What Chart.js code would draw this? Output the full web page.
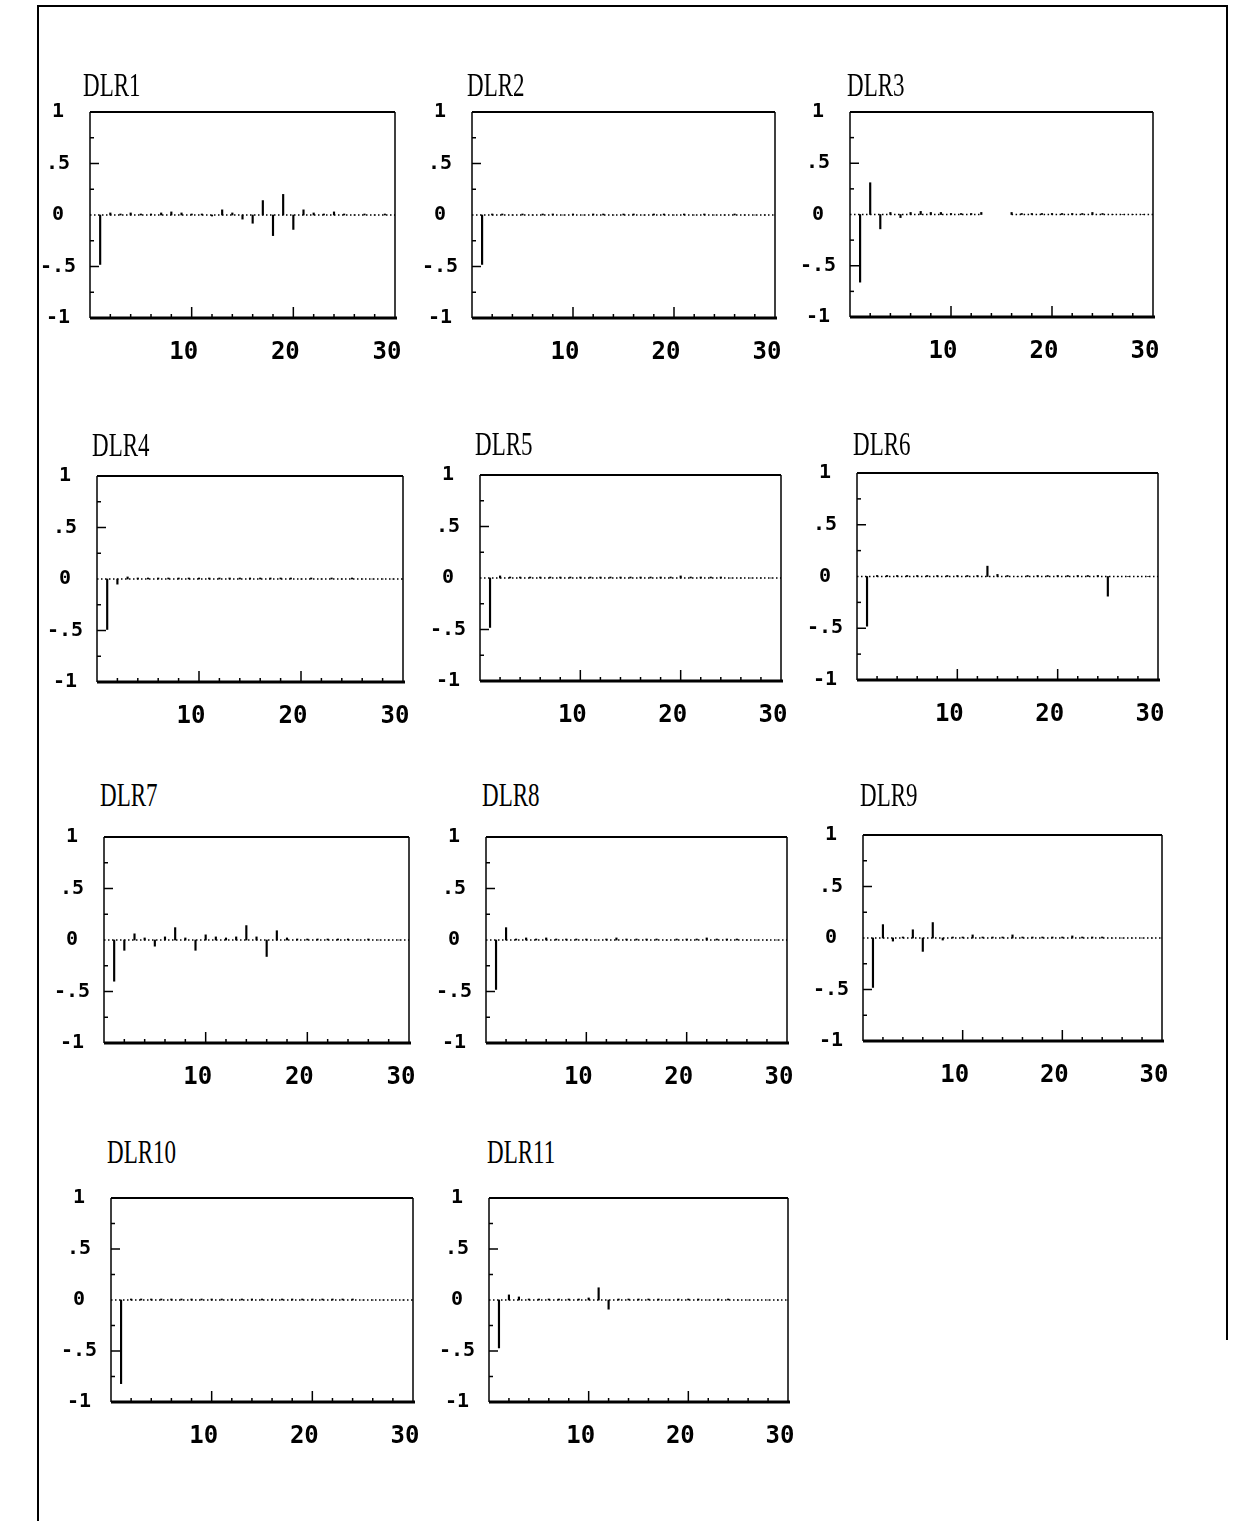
<!DOCTYPE html>
<html>
<head>
<meta charset="utf-8">
<script src="https://cdn.jsdelivr.net/npm/chart.js@4.4.1/dist/chart.umd.min.js"></script>
<style>
  html,body{margin:0;padding:0;background:#fff;}
  body{width:1239px;height:1521px;position:relative;overflow:hidden;}
  canvas{position:absolute;}
  .ttl{position:absolute;font-family:'Liberation Serif','DejaVu Serif',serif;font-size:32px;line-height:32px;color:#000;transform-origin:0 0;transform:scale(0.72,1.05);white-space:nowrap;}
  .frame{position:absolute;background:#000;}
</style>
</head>
<body>
<div class="frame" style="left:38px;top:5px;width:1190px;height:2px;"></div>
<div class="frame" style="left:37px;top:5px;width:2px;height:1516px;"></div>
<div class="frame" style="left:1226px;top:5px;width:2px;height:1335px;"></div>
<script>
// ---------- DATA ----------
const seriesNames = ['DLR1','DLR2','DLR3','DLR4','DLR5','DLR6','DLR7','DLR8','DLR9','DLR10','DLR11'];
const lags = [1,2,3,4,5,6,7,8,9,10,11,12,13,14,15,16,17,18,19,20,21,22,23,24,25,26,27,28,29,30];
const yTickLabels = {'1':'1','0.5':'.5','0':'0','-0.5':'-.5','-1':'-1'};
const xTickLabels = {'10':'10','20':'20','30':'30'};
const yMarkValues = [-0.75,-0.5,-0.25,0.25,0.5,0.75];
const xMarkValues = [2,4,6,8,10,12,14,16,18,20,22,24,26,28];

const DLR1  = [-0.48,0.02,0.01,0.02,0.01,0.01,0.02,0.03,0.02,0.01,0.01,-0.01,0.05,0.02,-0.04,-0.08,0.14,-0.20,0.20,-0.14,0.05,0.02,0.01,0.03,0.01,0.00,0.01,0.00,0.01,0.00];
const DLR2  = [-0.48,0.01,0.01,0.00,0.01,0.00,0.01,0.01,0.00,0.01,0.00,0.01,0.01,0.00,0.01,0.01,0.00,0.01,0.01,0.00,0.01,0.00,0.01,0.00,0.00,0.01,0.00,0.00,0.00,0.00];
const DLR3  = [-0.66,0.31,-0.14,0.02,-0.03,0.02,0.03,0.02,0.02,0.01,0.01,0.01,0.02,null,null,0.02,0.01,0.01,0.01,0.01,0.01,0.01,0.01,0.02,0.01,0.00,0.00,0.00,0.00,0.00];
const DLR4  = [-0.49,-0.05,0.02,0.01,0.01,0.01,0.01,0.01,0.01,0.01,0.01,0.01,0.01,0.01,0.01,0.01,0.01,0.01,0.01,0.00,0.01,0.00,0.01,0.00,0.01,0.00,0.00,0.00,0.00,0.00];
const DLR5  = [-0.48,0.02,0.01,0.01,0.01,0.01,0.01,0.01,0.01,0.01,0.01,0.01,0.01,0.01,0.01,0.01,0.01,0.01,0.01,0.02,0.01,0.01,0.01,0.01,0.00,0.00,0.00,0.00,0.00,0.00];
const DLR6  = [-0.48,0.01,0.01,0.01,0.01,0.01,0.01,0.01,0.01,0.01,0.01,0.01,0.10,0.02,0.01,0.00,0.01,0.01,0.01,0.01,0.01,0.01,0.01,0.01,-0.19,0.00,0.00,0.00,0.00,0.00];
const DLR7  = [-0.40,-0.10,0.06,0.02,-0.06,0.03,0.12,0.02,-0.10,0.05,0.03,0.02,0.03,0.14,0.03,-0.16,0.09,0.02,0.01,0.01,0.01,0.01,0.01,0.01,0.00,0.01,0.00,0.00,0.00,0.00];
const DLR8  = [-0.48,0.12,0.01,0.02,0.01,0.02,0.01,0.01,0.01,0.01,0.00,0.01,0.02,0.01,0.01,0.01,0.01,0.00,0.01,0.01,0.01,0.02,0.01,0.01,0.01,0.00,0.00,0.00,0.00,0.00];
const DLR9  = [-0.48,0.13,-0.03,0.01,0.08,-0.13,0.15,-0.02,0.01,0.01,0.03,0.01,0.01,0.01,0.03,0.01,0.01,0.01,0.01,0.01,0.02,0.01,0.01,0.01,0.00,0.00,0.00,0.00,0.00,0.00];
const DLR10 = [-0.82,0.01,0.01,0.01,0.01,0.01,0.01,0.01,0.01,0.01,0.01,0.01,0.01,0.01,0.01,0.01,0.01,0.01,0.01,0.01,0.01,0.01,0.01,0.01,0.00,0.00,0.00,0.00,0.00,0.00];
const DLR11 = [-0.47,0.05,0.03,0.01,0.01,0.01,0.01,0.01,0.01,0.02,0.12,-0.09,0.01,0.01,0.01,0.01,0.01,0.00,0.01,0.01,0.01,0.00,0.01,0.01,0.00,0.00,0.00,0.00,0.00,0.00];
const seriesValues = [DLR1,DLR2,DLR3,DLR4,DLR5,DLR6,DLR7,DLR8,DLR9,DLR10,DLR11];

// ---------- LAYOUT (plot boxes: left, top, right, bottom; title pos) ----------
const plotBoxes = [
  [90,112,395,318],[472,112,775,318],[850,112,1153,317],
  [97,476,403,682],[480,475,781,681],[857,473,1158,680],
  [104,837,409,1043],[486,837,787,1043],[863,835,1162,1041],
  [111,1198,413,1402],[489,1198,788,1402]
];
const titlePos = [
  [83,68],[467,68],[847,68],
  [92,428],[475,427],[853,427],
  [100,778],[482,778],[860,778],
  [107,1135],[487,1135]
];
const PADL = 62, PADT = 22, PADR = 15, PADB = 52;

const framePlugin = {
  id:'frameAndTicks',
  afterDatasetsDraw(chart){
    const {ctx, chartArea:a, scales:{x,y}} = chart;
    ctx.save();
    ctx.strokeStyle = '#000';
    ctx.lineCap = 'butt';
    ctx.lineWidth = 2; ctx.beginPath(); ctx.moveTo(a.left, a.top); ctx.lineTo(a.right, a.top); ctx.stroke();
    ctx.lineWidth = 3; ctx.beginPath(); ctx.moveTo(a.left, a.bottom); ctx.lineTo(a.right+2, a.bottom); ctx.stroke();
    ctx.lineWidth = 1.5; ctx.beginPath(); ctx.moveTo(a.left, a.top); ctx.lineTo(a.left, a.bottom); ctx.stroke();
    ctx.beginPath(); ctx.moveTo(a.right, a.top); ctx.lineTo(a.right, a.bottom); ctx.stroke();
    ctx.lineWidth = 1.5;
    yMarkValues.forEach(v => {
      const py = y.getPixelForValue(v);
      const len = Math.abs(v) === 0.5 ? 9 : 4;
      ctx.beginPath(); ctx.moveTo(a.left, py); ctx.lineTo(a.left + len, py); ctx.stroke();
    });
    xMarkValues.forEach(v => {
      const px = x.getPixelForValue(v);
      const len = (v % 10 === 0) ? 11 : 4;
      ctx.beginPath(); ctx.moveTo(px, a.bottom); ctx.lineTo(px, a.bottom - len); ctx.stroke();
    });
    ctx.restore();
  }
};

seriesNames.forEach((name, i) => {
  const [L,T,R,B] = plotBoxes[i];
  const cv = document.createElement('canvas');
  const w = (R - L) + PADL + PADR, h = (B - T) + PADT + PADB;
  cv.width = w; cv.height = h;
  cv.style.left = (L - PADL) + 'px'; cv.style.top = (T - PADT) + 'px';
  cv.style.width = w + 'px'; cv.style.height = h + 'px';
  document.body.appendChild(cv);

  const t = document.createElement('div');
  t.className = 'ttl'; t.textContent = name;
  t.style.left = titlePos[i][0] + 'px'; t.style.top = titlePos[i][1] + 'px';
  document.body.appendChild(t);

  const vals = seriesValues[i];
  const spikes = lags.map((l, k) => ({x: l, y: vals[k]}));
  const zero = [{x: 0, y: 0}].concat(lags.map((l, k) => ({x: l, y: vals[k] === null ? null : 0})));

  new Chart(cv.getContext('2d'), {
    type: 'bar',
    data: {
      datasets: [
        {type:'line', data: zero, borderColor:'#000', borderWidth:1.4, borderDash:[1.5,2.5], pointRadius:0, spanGaps:false, fill:false, order:2},
        {type:'bar', data: spikes, backgroundColor:'#000', borderWidth:0, barThickness:1.5, order:1}
      ]
    },
    options: {
      responsive:false, animation:false, devicePixelRatio:1,
      layout:{padding:{top:PADT, right:PADR, left:0, bottom:0}},
      plugins:{legend:{display:false}, tooltip:{enabled:false}, title:{display:false}},
      scales:{
        x:{type:'linear', min:0, max:30, offset:false,
           grid:{display:false, drawTicks:false}, border:{display:false},
           ticks:{stepSize:10, autoSkip:false, maxRotation:0, padding:20, labelOffset:-8, color:'#000',
                  font:{family:"'DejaVu Sans Mono', monospace", size:24, weight:'bold'},
                  callback:(v) => xTickLabels[String(v)] || ''},
           afterFit(s){ s.height = PADB; s.paddingLeft = 0; s.paddingRight = 0; }},
        y:{type:'linear', min:-1, max:1,
           grid:{display:false, drawTicks:false}, border:{display:false},
           ticks:{stepSize:0.5, autoSkip:false, padding:14, crossAlign:'center', color:'#000',
                  font:{family:"'DejaVu Sans Mono', monospace", size:20, weight:'bold'},
                  callback:(v) => yTickLabels[String(v)] ?? ''},
           afterFit(s){ s.width = PADL; s.paddingTop = 0; s.paddingBottom = 0; }}
      }
    },
    plugins:[framePlugin]
  });
});
</script>
</body>
</html>
